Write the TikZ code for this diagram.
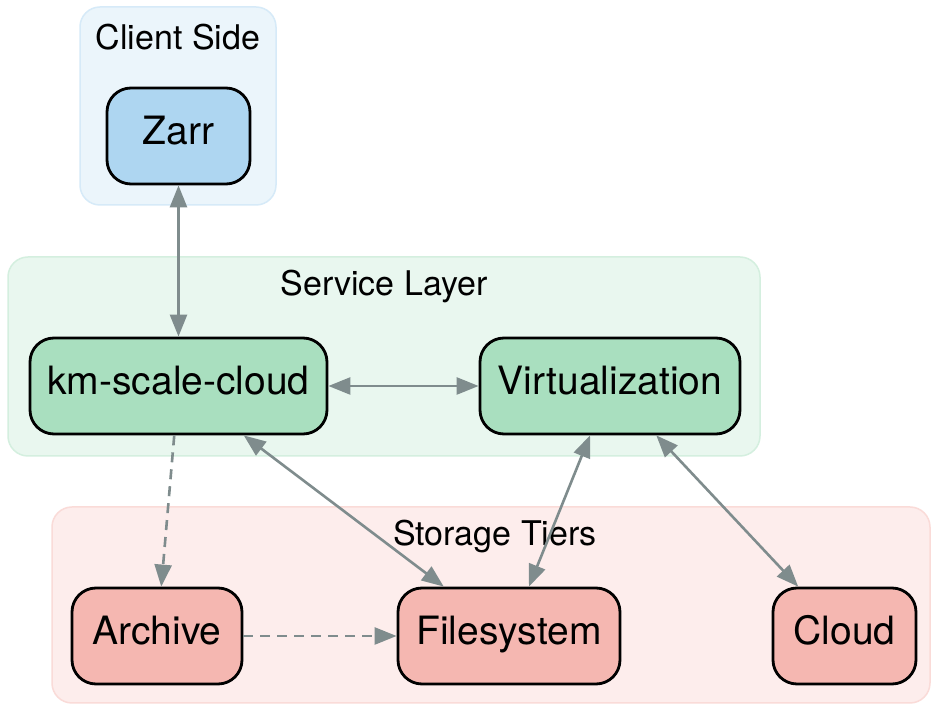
\documentclass[tikz,border=0pt]{standalone}
\usepackage{fontspec}
\setmainfont{TeX Gyre Heros}
\usetikzlibrary{arrows.meta}

\definecolor{linkgray}{HTML}{7F8C8D}
\definecolor{clientbg}{HTML}{EBF5FB}
\definecolor{clientline}{HTML}{D6EAF8}
\definecolor{servicebg}{HTML}{E9F7EF}
\definecolor{serviceline}{HTML}{D4EFDF}
\definecolor{storagebg}{HTML}{FDEDEC}
\definecolor{storageline}{HTML}{FADBD8}
\definecolor{clientfill}{HTML}{AED6F1}
\definecolor{servicefill}{HTML}{A9DFBF}
\definecolor{storagefill}{HTML}{F5B7B1}

\begin{document}
\begin{tikzpicture}[x=0.5pt, y=-0.5pt,
  cluster/.style = {line width=0.75pt, rounded corners=10pt},
  clusterlabel/.style = {font=\fontsize{17}{20}\selectfont},
  box/.style = {draw=black, line width=1.4pt, rounded corners=12pt, inner sep=0pt,
    minimum height=48pt, text height=1.0em, text depth=0.15em,
    font=\fontsize{19.5}{23}\selectfont},
  tip/.tip = {Triangle[length=11pt, width=8.5pt]},
  link/.style = {draw=linkgray, line width=1.3pt, tip-tip},
  weaklink/.style = {draw=linkgray, line width=1.3pt, dash pattern=on 5pt off 3.5pt, -tip}]

  % Page frame
  \fill[white] (0,0) rectangle (934,705);
  \useasboundingbox (0,0) rectangle (934,705);

  % Clusters
  \draw[cluster, fill=clientbg, draw=clientline] (80,7) rectangle (276,205);
  \draw[cluster, fill=servicebg, draw=serviceline] (8,257) rectangle (760,456);
  \draw[cluster, fill=storagebg, draw=storageline] (52,507) rectangle (930,703);

  \node[clusterlabel] (clientlbl) at (178,37) {Client Side};
  \node[clusterlabel] (servicelbl) at (384,287) {Service Layer};
  \node[clusterlabel] (storagelbl) at (495,537) {Storage Tiers};

  % Nodes
  \node[box, fill=clientfill, minimum width=71.5pt] (zarr) at (178.5,136) {Zarr};
  \node[box, fill=servicefill, minimum width=148.5pt] (kmcloud) at (178.5,386) {km-scale-cloud};
  \node[box, fill=servicefill, minimum width=130pt] (virt) at (610,386) {Virtualization};
  \node[box, fill=storagefill, minimum width=85pt] (archive) at (157,636) {Archive};
  \node[box, fill=storagefill, minimum width=111pt] (fs) at (509,636) {Filesystem};
  \node[box, fill=storagefill, minimum width=71.5pt] (cloud) at (844.5,636) {Cloud};

  % Links
  \draw[link] (zarr) -- (kmcloud);
  \draw[link] (kmcloud) -- (virt);
  \draw[link] (kmcloud) -- (fs);
  \draw[link] (virt) -- (fs);
  \draw[link] (virt) -- (cloud);
  \draw[weaklink] (kmcloud) -- (archive);
  \draw[weaklink] (archive) -- (fs);

\end{tikzpicture}
\end{document}
